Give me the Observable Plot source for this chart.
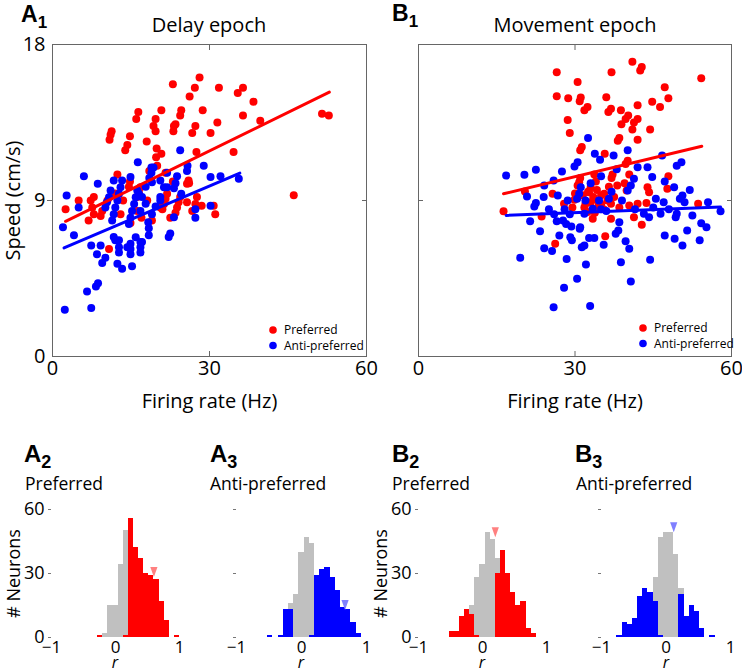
<!DOCTYPE html>
<html><head><meta charset="utf-8">
<script src="https://cdn.jsdelivr.net/npm/d3@7"></script>
<script src="https://cdn.jsdelivr.net/npm/@observablehq/plot@0.6"></script>
<style>
body{margin:0;background:#fff;}
#fig{position:relative;width:742px;height:672px;overflow:hidden;background:#fff;}
#fig svg{position:absolute;}
</style></head>
<body><div id="fig"></div>
<script>
// ---------- data ----------
const xTicks = [0, 30, 60];
const yTicks = [0, 9, 18];
const histXTicks = [-1, 0, 1];
const histYTicks = [0, 30, 60];

const a1Red = [
[28.1,16.1],[23.0,15.7],[27.2,15.5],[31.8,15.5],[36.4,15.5],[35.4,15.2],[26.2,15.0],[38.4,14.7],
[24.6,14.2],[28.7,14.2],[20.8,14.2],[16.4,14.1],[36.4,13.9],[24.4,13.9],[19.7,13.7],[16.0,13.7],
[39.7,13.6],[51.5,14.0],[52.8,13.9],[19.3,13.3],[23.2,13.3],[27.3,13.3],[31.5,13.5],[23.5,13.4],[23.1,13.0],[19.7,13.0],[30.2,12.9],[26.7,12.9],
[11.3,13.0],[11.1,12.8],[10.9,12.5],[14.8,12.7],[18.0,12.4],[14.3,12.2],[13.9,11.9],
[19.9,12.0],[20.8,11.7],[19.8,11.5],[27.5,11.8],[34.6,11.8],
[12.4,10.5],[20.0,11.0],[26.1,10.0],[23.0,10.1],[46.1,9.3],[21.6,10.6],[25.7,9.96],[26.0,10.15],
[14.8,10.1],[14.6,9.8],[16.8,9.77],[16.5,9.48],[16.2,9.2],[21.9,9.39],[21.6,9.1],[21.3,8.8],[21.0,8.5],
[24.4,9.2],[24.1,8.9],[23.8,8.6],[23.5,8.3],[27.6,9.2],[27.3,8.8],[26.7,8.4],[30.8,8.7],[31.1,8.2],
[5.0,9.0],[2.5,8.5],[7.9,9.2],[7.3,9.0],[7.6,8.6],[7.9,8.2],[6.9,7.85],[9.5,8.4],[9.2,8.1],[10.8,6.2],
[13.0,8.2],[16.2,8.4],[18.1,9.0],[19.0,7.85],[14.9,7.7],[20.6,8.6],[17.0,8.0],[22.5,8.0],[12.0,9.4],
[10.5,9.0],[13.5,9.0],[18.5,10.7],[28.5,8.7],[25.7,8.9]
];
const a1Blue = [
[24.4,11.9],[16.3,11.2],[18.9,10.9],[18.9,10.6],[6.0,10.4],[8.65,9.96],[2.7,9.29],[5.0,8.6],[2.0,7.46],[4.1,7.0],
[7.4,6.4],[9.2,6.4],[8.5,5.9],[10.1,5.7],[9.5,5.4],[12.4,5.35],[13.3,5.06],[15.2,5.2],[8.7,4.23],[8.3,4.04],[6.6,3.75],
[2.35,2.7],[7.4,2.8],
[11.1,9.58],[10.8,9.19],[10.4,8.9],[10.1,8.6],
[13.3,10.15],[13.0,9.77],[12.7,9.39],[12.4,9.0],[12.0,8.6],[11.7,8.2],[11.4,7.85],
[16.2,9.58],[15.9,9.19],[15.6,8.8],[15.2,8.4],[14.9,8.0],[14.6,7.65],
[19.3,10.9],[18.5,10.3],[17.8,9.8],[17.1,9.2],[16.8,8.4],
[21.3,9.77],[20.6,9.2],[19.7,8.65],[19.0,8.2],[18.3,7.75],
[23.8,10.4],[23.5,10.0],[23.2,9.7],
[25.7,10.7],[32.1,10.4],[35.6,10.25],[28.9,11.0],[25.8,11.0],[21.9,10.6],[30.2,10.35],
[27.3,8.5],[27.3,8.0],[30.2,8.7],[24.6,9.39],[23.2,8.04],
[22.5,7.1],[22.2,6.9],[18.4,7.0],[18.4,7.4],[16.8,6.6],[16.8,6.3],[16.8,6.0],[14.9,6.5],[14.9,6.2],[14.9,5.9],
[12.7,6.7],[12.7,6.3],[12.7,6.0],[11.7,6.9],[17.1,6.6],[15.9,6.88],[14.3,6.3],[12.0,6.7],
[17.8,8.81],[20.6,9.0],[14.9,10.35],[11.7,10.15],[16.5,9.39],[19.0,10.06],[20.6,10.15],[21.9,9.77]
];
const b1Red = [
[41.0,17.0],[42.8,16.7],[42.5,16.5],[26.5,16.4],[37.0,16.4],[54.2,16.06],[30.5,15.83],[47.2,15.54],[47.9,14.9],
[26.5,15.02],[28.7,14.9],[36.0,14.96],[31.1,14.94],[30.9,14.73],[32.4,14.4],[31.8,14.2],[44.8,14.7],[46.3,14.4],
[42.0,14.5],[36.9,14.3],[36.4,14.1],[38.8,14.2],[40.2,13.9],[39.7,13.7],[42.0,13.7],[41.3,13.5],[38.9,13.4],
[28.6,13.65],[41.0,13.1],[44.4,13.1],[29.0,12.9],[38.5,12.6],[38.2,12.45],[42.0,12.5],[31.3,12.08],[31.0,11.9],
[35.7,11.7],[40.1,11.3],[39.7,11.1],[47.9,10.4],[37.2,10.5],[40.4,10.5],[33.7,10.5],[30.8,10.06],[30.5,9.87],
[33.0,9.77],[32.7,9.48],[35.6,9.39],[38.1,9.87],[39.9,9.58],[43.9,9.77],[44.2,9.48],[47.7,9.68],[25.7,9.39],
[20.4,9.52],[27.9,8.81],[29.9,9.04],[31.8,8.6],[32.4,8.33],[34.3,9.0],[35.0,8.77],[36.9,8.81],[40.4,8.71],
[42.0,8.81],[43.7,8.85],[53.6,8.81],[16.3,8.38],[23.6,8.08],[33.4,7.95],[36.9,7.95],[41.3,8.04],[42.8,7.6],
[35.8,6.94],[26.2,6.5],
[32.5,9.5],[33.5,9.2],[34.2,9.6],[35.0,9.3],[33.0,8.9],[34.5,8.7],[36.2,9.0],[31.5,9.3],[32.0,8.8],[30.0,9.4],
[35.5,8.5],[33.8,8.3],[37.5,9.2],[38.5,8.6],[36.5,9.8],[29.5,8.6],[31.0,10.3],[34.0,10.1],[37.0,10.3],[39.5,10.0]
];
const b1Blue = [
[32.5,12.6],[40.1,11.9],[33.8,11.7],[34.8,11.35],[37.4,11.6],[46.7,11.6],[30.5,11.2],[29.9,10.96],[50.4,11.2],
[49.5,11.0],[42.0,10.92],[43.9,10.92],[16.8,10.44],[20.3,10.48],[22.5,10.77],[27.5,10.67],[25.9,10.15],[24.1,9.87],
[41.3,10.25],[44.8,10.35],[47.2,10.1],[49.0,9.77],[20.8,9.23],[22.5,8.85],[22.2,8.66],[26.7,9.29],[28.6,9.0],
[31.1,9.77],[30.8,9.39],[30.4,9.1],[34.6,9.0],[36.5,9.1],[40.1,9.58],[40.7,9.87],[45.5,9.1],[47.0,8.9],[50.6,9.29],
[50.1,9.1],[57.9,8.38],[21.4,7.81],[26.5,7.8],[27.7,7.85],[28.3,7.65],[29.3,7.5],[30.9,7.37],[31.0,7.46],
[31.8,8.23],[33.4,8.52],[35.0,8.5],[38.5,7.75],[38.3,7.27],[37.8,7.08],[43.2,8.23],[44.2,8.04],[46.4,8.23],
[49.3,8.04],[49.5,8.23],[52.5,8.14],[54.2,7.69],[55.2,7.46],[51.5,7.27],[23.3,7.23],[27.0,6.98],[29.1,6.88],
[29.4,6.7],[32.7,6.84],[33.7,6.84],[31.3,6.3],[31.8,6.4],[35.5,6.44],[39.7,6.65],[40.4,6.21],[47.2,6.98],
[49.1,6.79],[50.6,6.4],[53.9,6.7],[24.1,6.25],[25.6,6.08],[19.5,5.7],[28.4,5.63],[32.1,5.31],[38.8,5.44],
[44.4,5.58],[30.4,4.48],[40.7,4.33],[27.9,3.96],[25.9,2.84],[32.9,2.92],
[24.0,9.2],[25.0,8.5],[26.0,8.2],[28.0,8.5],[29.0,8.2],[32.0,9.0],[33.0,10.0],[36.0,8.4],[37.0,9.5],[39.0,9.0],
[41.5,8.5],[45.0,8.6],[48.0,8.5],[51.0,8.9],[55.5,8.9],[52.0,9.6],[35.0,10.4],[38.0,10.8]
];
// regression lines (end points)
const a1RedFit = [[2.5,7.8],[52.9,15.25]];
const a1BlueFit = [[2.2,6.27],[35.8,10.58]];
const b1RedFit = [[16.3,9.39],[54.3,12.13]];
const b1BlueFit = [[16.8,8.14],[57.9,8.62]];

// histogram bins (r), counts per bin
const binEdges = [-1,-0.92,-0.84,-0.76,-0.68,-0.6,-0.52,-0.44,-0.36,-0.28,-0.2,-0.12,-0.04,0.04,0.12,0.2,0.28,0.36,0.44,0.52,0.6,0.68,0.76,0.84,0.92,1];
const a2Sig  = [0,0,0,0,0,0,0,0,0,1,0,0,0,0,1,56,42,37,30,29,27,17,8,0,1];
const a2Gray = [0,0,0,0,0,0,0,0,0,0,2,15,15,34,49,0,0,0,0,0,0,0,0,0,0];
const a3Sig  = [0,0,0,0,0,0,1,0,1,13,13,0,0,0,1,29,32,33,28,22,14,13,7,2,0];
const a3Gray = [0,0,0,0,0,0,0,0,0,0,3,20,40,47,43,0,0,0,0,0,0,0,0,0,0];
const b2Sig  = [0,0,0,0,0,0,3,3,10,13,11,1,0,0,0,30,41,30,21,15,17,4,2,0,0];
const b2Gray = [0,0,0,0,0,0,0,0,0,0,4,27,34,49,46,7,0,0,0,0,0,0,0,0,0];
const b3Sig  = [0,0,0,1,7,6,9,19,23,21,17,1,0,0,0,20,10,15,12,4,0,1,0,0,0];
const b3Gray = [0,0,0,0,0,0,0,0,0,0,11,46,49,49,39,3,0,0,0,0,0,0,0,0,0];
// mean r markers [r, count]
const a2Mean = [0.6, 30.7];
const a3Mean = [0.67, 15.2];
const b2Mean = [0.2, 49.3];
const b3Mean = [0.12, 51.7];

// ---------- style ----------
const RED = "#ff0000", BLUE = "#0000ff", GRAY = "#c0c0c0";
const LRED = "#ff8080", LBLUE = "#8080ff";
const FONT = "'Open Sans', sans-serif";
const fig = document.getElementById("fig");
function place(svg, left, top) { svg.style.left = left + "px"; svg.style.top = top + "px"; fig.appendChild(svg); }
const noText = () => "";

const downTri = { draw(ctx, size) { const r = Math.sqrt(size / Math.PI); ctx.moveTo(-0.72*r, -r); ctx.lineTo(0.72*r, -r); ctx.lineTo(0, r); ctx.closePath(); } };

function scatter({red, blue, redFit, blueFit, width, marginLeft, marginRight, yLabels}) {
  const T = 5; // tick length
  return Plot.plot({
    width, height: 410, marginLeft, marginRight, marginTop: 44, marginBottom: 54,
    x: {domain: [0, 60], label: null},
    y: {domain: [0, 18], label: null},
    style: {fontFamily: FONT, fontSize: "20px", color: "#000", background: "transparent", overflow: "visible"},
    marks: [
      Plot.dot(red, {x: d => d[0], y: d => d[1], r: 4, fill: RED}),
      Plot.dot(blue, {x: d => d[0], y: d => d[1], r: 4, fill: BLUE}),
      Plot.line(redFit, {x: d => d[0], y: d => d[1], stroke: RED, strokeWidth: 3}),
      Plot.line(blueFit, {x: d => d[0], y: d => d[1], stroke: BLUE, strokeWidth: 3}),
      Plot.frame({stroke: "#666"}),
      Plot.axisX({anchor: "bottom", ticks: xTicks, tickSize: 0, tickPadding: 4, label: "Firing rate (Hz)", labelAnchor: "center", labelArrow: "none", labelOffset: 51}),
      Plot.axisX({anchor: "bottom", ticks: [30], tickSize: T, dy: -T, tickFormat: noText, label: null, stroke: "#666"}),
      Plot.axisX({anchor: "top", ticks: [30], tickSize: T, dy: T, tickFormat: noText, label: null, stroke: "#666"}),
      yLabels ? Plot.axisY({anchor: "left", ticks: yTicks, tickSize: 0, tickPadding: 7, label: "Speed (cm/s)", labelAnchor: "center", labelArrow: "none", labelOffset: 47}) : null,
      yLabels
        ? Plot.axisY({anchor: "left", ticks: [9], tickSize: T, tickFormat: noText, label: null, stroke: "#666"})
        : Plot.axisY({anchor: "left", ticks: [9], tickSize: T, dx: T, tickFormat: noText, label: null, stroke: "#666"}),
      Plot.axisY({anchor: "right", ticks: [9], tickSize: T, dx: -T, tickFormat: noText, label: null, stroke: "#666"})
    ]
  });
}

function hist({sig, gray, color, mean, meanColor, width, marginLeft, marginRight, yLabels}) {
  const sigRows = sig.map((c, i) => ({x1: binEdges[i], x2: binEdges[i+1], y1: 0, y2: c})).filter(d => d.y2 > 0);
  const grayRows = gray.map((g, i) => ({x1: binEdges[i], x2: binEdges[i+1], y1: sig[i], y2: sig[i] + g})).filter(d => d.y2 > d.y1);
  return Plot.plot({
    width, height: 232, marginLeft, marginRight, marginTop: 69, marginBottom: 35,
    x: {domain: [-1, 1], label: null},
    y: {domain: [0, 60], label: null},
    style: {fontFamily: FONT, fontSize: "17px", color: "#000", background: "transparent", overflow: "visible"},
    marks: [
      Plot.rect(sigRows, {x1: "x1", x2: "x2", y1: "y1", y2: "y2", fill: color, shapeRendering: "crispEdges"}),
      Plot.rect(grayRows, {x1: "x1", x2: "x2", y1: "y1", y2: "y2", fill: GRAY, shapeRendering: "crispEdges"}),
      Plot.dot([mean], {x: d => d[0], y: d => d[1], symbol: downTri, r: 5, fill: meanColor}),
      Plot.axisX({ticks: histXTicks, tickSize: 0, tickPadding: 3, tickFormat: "d", line: true, stroke: "#777", label: null}),
      Plot.axisY({ticks: histYTicks, tickSize: 3, tickFormat: noText, line: true, stroke: "#777", label: null}),
      yLabels ? Plot.axisY({ticks: histYTicks, tickSize: 0, tickPadding: 7, tickFormat: "d", label: "# Neurons", labelAnchor: "center", labelArrow: "none", labelOffset: 44, fontSize: 18}) : null
    ]
  });
}

place(scatter({red: a1Red, blue: a1Blue, redFit: a1RedFit, blueFit: a1BlueFit, width: 371, marginLeft: 52, marginRight: 5, yLabels: true}), 0, 0);
place(scatter({red: b1Red, blue: b1Blue, redFit: b1RedFit, blueFit: b1BlueFit, width: 371, marginLeft: 47, marginRight: 11, yLabels: false}), 371, 0);
place(hist({sig: a2Sig, gray: a2Gray, color: RED, mean: a2Mean, meanColor: LRED, width: 185, marginLeft: 51, marginRight: 6, yLabels: true}), 0, 440);
place(hist({sig: a3Sig, gray: a3Gray, color: BLUE, mean: a3Mean, meanColor: LBLUE, width: 186, marginLeft: 51, marginRight: 5, yLabels: false}), 185, 440);
place(hist({sig: b2Sig, gray: b2Gray, color: RED, mean: b2Mean, meanColor: LRED, width: 185, marginLeft: 47, marginRight: 10, yLabels: true}), 371, 440);
place(hist({sig: b3Sig, gray: b3Gray, color: BLUE, mean: b3Mean, meanColor: LBLUE, width: 186, marginLeft: 45, marginRight: 12, yLabels: false}), 556, 440);

// ---------- annotations overlay ----------
const ov = d3.create("svg").attr("width", 742).attr("height", 672).style("left", "0px").style("top", "0px").style("pointer-events", "none");
function letter(x, y, L, n, big, small) {
  const t = ov.append("text").attr("x", x).attr("y", y).attr("font-family", "'Liberation Sans', Arial, sans-serif").attr("font-weight", "bold").attr("font-size", big).attr("fill", "#000");
  t.append("tspan").text(L);
  t.append("tspan").attr("font-size", small).attr("dy", 6).text(n);
}
function txt(x, y, s, size, anchor = "start", extra = {}) {
  const t = ov.append("text").attr("x", x).attr("y", y).attr("font-family", FONT).attr("font-size", size).attr("text-anchor", anchor).attr("fill", "#000").text(s);
  for (const k in extra) t.attr(k, extra[k]);
}
letter(21, 22, "A", "1", 23, 17);
letter(392, 21, "B", "1", 23, 17);
txt(209, 32, "Delay epoch", 20, "middle");
txt(575, 32, "Movement epoch", 20, "middle");
letter(24, 462, "A", "2", 24, 18);
letter(210, 462, "A", "3", 24, 18);
letter(392, 462, "B", "2", 24, 18);
letter(575, 462, "B", "3", 24, 18);
txt(25, 490, "Preferred", 17.5);
txt(210, 490, "Anti-preferred", 17.5);
txt(392, 490, "Preferred", 17.5);
txt(576, 490, "Anti-preferred", 17.5);
for (const cx of [115, 301, 482, 666]) txt(cx, 668, "r", 16, "middle", {"font-style": "italic"});
// legends
function legend(x, y) {
  ov.append("circle").attr("cx", x).attr("cy", y).attr("r", 3.8).attr("fill", RED);
  ov.append("circle").attr("cx", x).attr("cy", y + 15.5).attr("r", 3.8).attr("fill", BLUE);
  txt(x + 11, y + 4, "Preferred", 12);
  txt(x + 11, y + 19.5, "Anti-preferred", 12);
}
legend(273, 330);
legend(643, 328);
fig.appendChild(ov.node());
</script>
</body></html>
